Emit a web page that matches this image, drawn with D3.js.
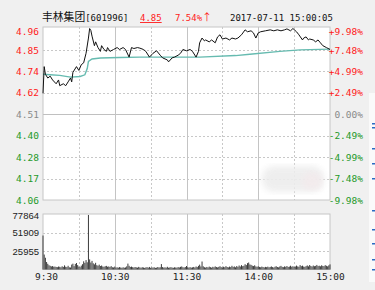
<!DOCTYPE html>
<html><head><meta charset="utf-8">
<script src="https://cdn.jsdelivr.net/npm/d3@7"></script>
<style>
html,body{margin:0;padding:0;background:#f0f0f0;}
svg{display:block;}
</style></head><body>
<svg id="c" width="375" height="290"></svg>
<script>
// ---- data ----
const stockName = "丰林集团";
const stockCode = "[601996]";
const lastPrice = "4.85";
const changePct = "7.54%";
const changeArrow = "↑";
const timestamp = "2017-07-11 15:00:05";
const prevClose = 4.51;
const limitPct = 9.98;
const priceTickLabels = ["4.96","4.85","4.74","4.62","4.51","4.40","4.28","4.17","4.06"];
const pctTickValues = [9.98,7.48,4.99,2.49,0,-2.49,-4.99,-7.48,-9.98];
const pctTickLabels = ["+9.98%","+7.48%","+4.99%","+2.49%","0.00%","-2.49%","-4.99%","-7.48%","-9.98%"];
const volTicks = [77864, 51909, 25955];
const volMax = 77864;
const timeTicks = [0,60,120,180,240];
const timeLabels = ["9:30","10:30","11:30","14:00","15:00"];
const gridMinutes = [30,60,90,120,150,180,210];
const solidGridMinutes = [60,120,180];

const priceMinutes = [0,1,2,4,6,8,11,13,14,17,19,21,23,24,25,28,30,32,34,36,38,39,40,41,43,44,46,48,49,51,53,54,56,59,62,64,67,69,72,74,76,79,81,84,86,89,92,95,98,100,104,105,108,110,113,115,117,120,123,125,128,130,131,133,135,136,139,141,144,146,148,150,153,156,158,161,163,166,169,171,174,176,178,180,182,186,190,193,196,199,202,204,207,209,212,214,217,218,220,222,223,226,228,230,232,234,237,240];
const priceValues = [4.62,4.76,4.72,4.70,4.71,4.69,4.67,4.69,4.66,4.67,4.66,4.68,4.70,4.68,4.73,4.76,4.74,4.77,4.78,4.83,4.91,4.96,4.95,4.92,4.87,4.89,4.86,4.84,4.87,4.85,4.84,4.86,4.84,4.85,4.86,4.85,4.86,4.85,4.81,4.86,4.855,4.86,4.857,4.85,4.84,4.81,4.83,4.843,4.82,4.806,4.795,4.785,4.806,4.81,4.82,4.83,4.85,4.843,4.85,4.84,4.81,4.84,4.885,4.91,4.895,4.90,4.89,4.90,4.885,4.916,4.927,4.905,4.91,4.90,4.91,4.905,4.91,4.927,4.953,4.943,4.948,4.937,4.91,4.937,4.943,4.948,4.953,4.948,4.953,4.948,4.953,4.958,4.948,4.96,4.943,4.927,4.90,4.91,4.916,4.90,4.905,4.90,4.89,4.90,4.885,4.87,4.86,4.85];
const avgMinutes = [0,6,14,23,31,35,37,38,41,48,64,81,131,161,173,198,215,240];
const avgValues = [4.72,4.717,4.714,4.705,4.708,4.717,4.75,4.787,4.80,4.805,4.808,4.81,4.81,4.818,4.825,4.84,4.848,4.852];
const volumes = [
47700,21000,16500,10500,8000,6000,5200,4300,4800,3900,
4100,3600,3300,4200,3800,3100,4500,3600,5800,3900,
3400,5200,3100,2800,6900,8200,4700,7800,9100,6200,
4100,3200,5400,7400,11500,9300,13200,10100,76500,14200,
9800,12100,8700,7200,9400,6100,5300,6800,4900,5600,
4200,3800,4600,5100,3900,4300,3500,4800,3200,2900,
4100,2700,3000,2600,3400,2800,2400,3100,2500,2900,
4400,8300,5200,3600,4100,3300,2800,3500,3000,2600,
3700,2900,2500,3200,2800,2300,2900,3300,2600,3600,
2400,2900,2700,3100,2300,2600,3500,2800,3200,7600,
3400,2700,3000,2600,3800,2500,2900,3300,2700,2400,
3100,2800,2600,3400,2900,3700,4300,3200,2800,3500,
4900,3100,2700,3300,2600,3000,3600,2800,4200,3400,
5100,6800,4300,11200,4500,3200,2700,3600,2900,4100,
3300,2600,3800,3100,4400,3500,2900,3700,4600,3300,
2800,3900,3200,4700,3500,3000,4100,3400,5200,3600,
4300,3100,4800,3700,5600,4200,6100,4700,5300,7400,
6200,8900,9800,7100,6500,5400,4800,5900,4300,3800,
4500,3600,3200,4100,3500,2900,3700,3300,4000,3100,
3600,4300,3400,2800,3900,4600,3500,3000,4200,5100,
3700,3300,4400,3800,4900,3500,4100,5300,3900,4600,
3600,4200,5500,4300,3800,6200,4700,5400,4100,3700,
4800,5700,4400,6300,4900,4200,5600,4600,5100,6400,
4800,5300,4500,5900,5000,4700,6100,5200,4400,5800,
7200];

// ---- layout ----
const L = 43, R = 330, mainTop = 28.5, mainBot = 200, volTop = 214, volBot = 269.5;
const red = "#ff1a1a", green = "#1f9a2a", gray = "#8a8a8a";
const mono = "'DejaVu Sans Mono', monospace";

const svg = d3.select("#c");
const defs = svg.append("defs");
defs.append("filter").attr("id","blur").append("feGaussianBlur").attr("stdDeviation",3);

const x = d3.scaleLinear().domain([0,240]).range([L,R]);
const yPct = d3.scaleLinear().domain([-limitPct, limitPct]).range([mainBot, mainTop]);
const yPrice = d3.scaleLinear().domain([prevClose*(1-limitPct/100), prevClose*(1+limitPct/100)]).range([mainBot, mainTop]);
const yVol = d3.scaleLinear().domain([0, volMax]).range([volBot, volTop]);

// decorative right strip
svg.append("rect").attr("x",369).attr("y",93).attr("width",6).attr("height",189).attr("fill","#fafafa");
[123,127,148,163,178,210,229,243,259,269].forEach(v=>{
  svg.append("rect").attr("x",372).attr("y",v).attr("width",3).attr("height",1.5).attr("fill","#2b6cc4");
});

// panels
svg.append("rect").attr("x",L).attr("y",mainTop-1.5).attr("width",R-L).attr("height",mainBot-mainTop+1.5).attr("fill","#fff").attr("stroke","#c6c6c6");
svg.append("rect").attr("x",L).attr("y",volTop).attr("width",R-L).attr("height",volBot-volTop).attr("fill","#fff").attr("stroke","#c6c6c6");

// horizontal grid main
const g = svg.append("g");
pctTickValues.forEach(p=>{
  if (Math.abs(p)===limitPct) return;
  g.append("line").attr("x1",L).attr("x2",R).attr("y1",Math.round(yPct(p))+0.5).attr("y2",Math.round(yPct(p))+0.5)
   .attr("stroke", p===0 ? "#c0c0c0" : "#c8c8c8").attr("stroke-dasharray", p===0 ? null : "2,2");
});
// vertical grid main + vol
gridMinutes.forEach(m=>{
  const solid = solidGridMinutes.includes(m);
  [[mainTop-1.5,mainBot],[volTop,volBot]].forEach(([a,b])=>{
    g.append("line").attr("x1",Math.round(x(m))+0.5).attr("x2",Math.round(x(m))+0.5).attr("y1",a).attr("y2",b)
     .attr("stroke", solid ? "#c4c4c4" : "#c8c8c8").attr("stroke-dasharray", solid ? null : "2,2");
  });
});
// vol horizontal grid
volTicks.slice(1).forEach(v=>{
  g.append("line").attr("x1",L).attr("x2",R).attr("y1",Math.round(yVol(v))+0.5).attr("y2",Math.round(yVol(v))+0.5)
   .attr("stroke","#c8c8c8").attr("stroke-dasharray","2,2");
});

// watermark blur
svg.append("rect").attr("x",262).attr("y",166).attr("width",62).attr("height",26).attr("rx",12)
  .attr("fill","#ededed").attr("filter","url(#blur)").attr("opacity",0.9);
svg.append("rect").attr("x",302).attr("y",172).attr("width",20).attr("height",18).attr("rx",8)
  .attr("fill","#f4eaec").attr("filter","url(#blur)").attr("opacity",0.7);

// volume bars
svg.append("g").selectAll("rect").data(volumes).join("rect")
  .attr("x",(d,i)=>x(i)-0.5).attr("width",1)
  .attr("y",d=>yVol(d)).attr("height",d=>volBot-yVol(d))
  .attr("fill","#3c3c3c");

// avg line
const avgPts = avgMinutes.map((m,i)=>[m,avgValues[i]]);
svg.append("path").datum(avgPts)
  .attr("d", d3.line().x(d=>x(d[0])).y(d=>yPrice(d[1])))
  .attr("fill","none").attr("stroke","#66bbb0").attr("stroke-width",1.4);
// price line
const pricePts = priceMinutes.map((m,i)=>[m,priceValues[i]]);
svg.append("path").datum(pricePts)
  .attr("d", d3.line().x(d=>x(d[0])).y(d=>yPrice(d[1])))
  .attr("fill","none").attr("stroke","#111").attr("stroke-width",1);

// left axis
const colorFor = (p)=> p>0 ? red : (p<0 ? green : gray);
const leftAx = svg.append("g").attr("transform",`translate(${L-4},0)`)
  .call(d3.axisLeft(yPct).tickValues(pctTickValues).tickFormat((d,i)=>priceTickLabels[i]).tickSize(0).tickPadding(0));
leftAx.select(".domain").remove();
leftAx.selectAll("text").attr("font-family",mono).attr("font-size",9.5)
  .attr("fill",d=>colorFor(d)).attr("dy",(d,i)=> i===0 ? "0.62em" : "0.32em");

const rightAx = svg.append("g").attr("transform",`translate(${R+33},0)`)
  .call(d3.axisLeft(yPct).tickValues(pctTickValues).tickFormat((d,i)=>pctTickLabels[i]).tickSize(0).tickPadding(0));
rightAx.select(".domain").remove();
rightAx.selectAll("text").attr("font-family",mono).attr("font-size",9.5)
  .attr("fill",d=>colorFor(d)).attr("dy",(d,i)=> i===0 ? "0.62em" : "0.32em");

// volume axis
const volAx = svg.append("g").attr("transform",`translate(${L-4},0)`)
  .call(d3.axisLeft(yVol).tickValues(volTicks).tickFormat(d3.format("d")).tickSize(0).tickPadding(0));
volAx.select(".domain").remove();
volAx.selectAll("text").attr("font-family","'Liberation Sans', Arial, sans-serif").attr("font-size",9.5)
  .attr("fill","#222").attr("dy",(d,i)=> i===0 ? "0.45em" : "0.32em");

// time axis
const timeAx = svg.append("g").attr("transform",`translate(0,${volBot+4})`)
  .call(d3.axisBottom(x).tickValues(timeTicks).tickFormat((d,i)=>timeLabels[i]).tickSize(0).tickPadding(0));
timeAx.select(".domain").remove();
timeAx.selectAll("text").attr("font-family",mono).attr("font-size",9.5).attr("fill","#222")
  .attr("dx",(d,i)=> i===0 ? "3" : "0");

// header
const hdr = svg.append("text").attr("x",42).attr("y",21).attr("fill","#111");
hdr.append("tspan").attr("font-family","'Noto Sans CJK SC', sans-serif").attr("font-size",10.8).text(stockName);
hdr.append("tspan").attr("font-family",mono).attr("font-size",9).text(stockCode);
svg.append("text").attr("x",140).attr("y",21).attr("fill",red).attr("font-family",mono).attr("font-size",9)
  .attr("text-decoration","underline").text(lastPrice);
const chg = svg.append("text").attr("x",175).attr("y",21).attr("fill",red);
chg.append("tspan").attr("font-family",mono).attr("font-size",9).text(changePct);
chg.append("tspan").attr("font-family","'Noto Sans CJK SC', sans-serif").attr("font-size",10).text(changeArrow);
svg.append("text").attr("x",230).attr("y",21).attr("fill","#111").attr("font-family",mono).attr("font-size",9).text(timestamp);
</script>
</body></html>
